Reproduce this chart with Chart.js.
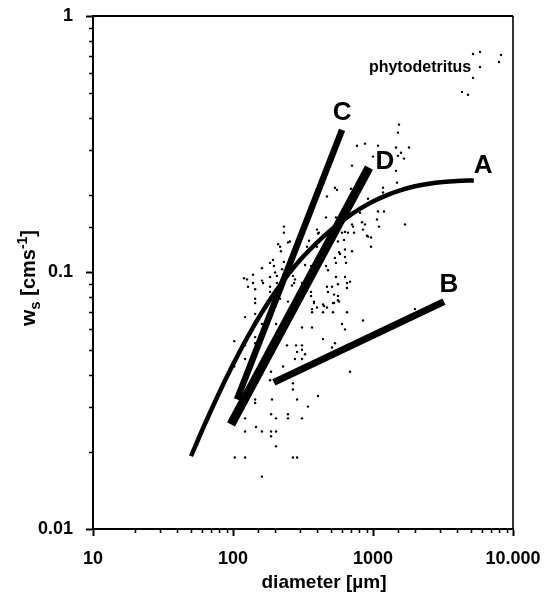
<!DOCTYPE html>
<html>
<head>
<meta charset="utf-8">
<script src="https://cdn.jsdelivr.net/npm/chart.js@4.4.0/dist/chart.umd.min.js"></script>
<style>
html,body{margin:0;padding:0;background:#fff;}
#wrap{width:548px;height:599px;position:relative;}
</style>
</head>
<body>
<div id="wrap"><canvas id="c" width="548" height="599"></canvas></div>
<script>
// ---------- data ----------
const xTickValues = [10, 100, 1000, 10000];
const xTickLabels = ['10', '100', '1000', '10.000'];
const yTickValues = [0.01, 0.1, 1];
const yTickLabels = ['0.01', '0.1', '1'];

// individual measurements (diameter µm, ws cm/s)
const scatterDiameter = [
  1534,1509,769,877,1086,1460,1808,1585,1509,1665,1000,708,1460,1484,535,553,696,469,1179,1179,921,
  462,544,1198,1086,1068,1104,1693,921,968,231,231,217,220,255,273,338,398,411,527,621,720,732,835,848,808,
  572,535,631,642,462,361,544,510,652,477,527,708,601,398,196,206,206,361,273,
  210,247,193,184,231,161,200,224,120,139,161,184,184,144,268,277,264,311,327,355,144,144,247,217,361,379,405,405,349,184,
  708,877,631,663,906,562,968,631,581,544,477,631,685,469,562,652,562,562,439,469,518,1995,
  126,139,128,164,
  122,144,161,203,102,122,144,144,243,282,287,122,102,228,187,277,268,268,287,144,144,
  367,367,439,518,652,848,601,311,367,631,439,535,311,311,327,510,311,685,405,343,
  187,247,203,247,311,122,122,146,161,187,203,187,203,103,122,268,287,161,184,190,398,447,527,572,379
];
const scatterWs = [
  0.377,0.351,0.312,0.318,0.312,0.307,0.307,0.293,0.285,0.278,0.283,0.261,0.249,0.224,0.214,0.210,0.212,0.198,0.214,0.205,0.194,
  0.164,0.164,0.173,0.173,0.161,0.151,0.154,0.138,0.137,0.151,0.143,0.126,0.121,0.132,0.120,0.126,0.147,0.143,0.134,0.134,0.151,0.143,0.157,0.147,0.171,
  0.120,0.114,0.115,0.109,0.106,0.106,0.096,0.088,0.091,0.084,0.082,0.121,0.143,0.126,0.106,0.097,0.091,0.084,0.091,
  0.129,0.131,0.112,0.109,0.110,0.104,0.100,0.103,0.095,0.091,0.093,0.096,0.088,0.086,0.097,0.094,0.089,0.091,0.107,0.097,0.079,0.076,0.077,0.079,0.081,0.077,0.131,0.142,0.133,0.084,
  0.154,0.154,0.144,0.143,0.139,0.132,0.126,0.123,0.118,0.109,0.102,0.096,0.092,0.088,0.090,0.087,0.081,0.078,0.075,0.073,0.076,0.072,
  0.094,0.098,0.088,0.091,
  0.067,0.069,0.063,0.063,0.054,0.052,0.053,0.056,0.052,0.052,0.049,0.046,0.043,0.043,0.041,0.046,0.037,0.035,0.032,0.032,0.031,
  0.072,0.070,0.070,0.070,0.070,0.065,0.063,0.061,0.061,0.060,0.055,0.053,0.052,0.050,0.048,0.051,0.046,0.041,0.033,0.030,
  0.028,0.028,0.027,0.027,0.027,0.027,0.024,0.025,0.024,0.024,0.024,0.023,0.021,0.019,0.019,0.019,0.019,0.016,0.038,0.032,0.073,0.074,0.076,0.077,0.076
];
const phytoDiameter = [5179, 5812, 8208, 7943, 5812, 5179, 4323, 4771];
const phytoWs = [0.711, 0.724, 0.705, 0.662, 0.633, 0.574, 0.506, 0.493];

// relationships A-D
const curveADiameter = [50.1, 63.1, 79.4, 100, 125.9, 158.5, 199.5, 251.2, 316.2, 398.1, 501.2, 631, 794.3, 1000, 1259, 1585, 1995, 2512, 3162, 3981, 5248];
const curveAWs = [0.01923, 0.02573, 0.03384, 0.04375, 0.05553, 0.06895, 0.08366, 0.0992, 0.1151, 0.1309, 0.1466, 0.1618, 0.1762, 0.1892, 0.2004, 0.2096, 0.2168, 0.2218, 0.2252, 0.2273, 0.2286];
const lineBDiameter = [196, 3214];
const lineBWs = [0.0373, 0.077];
const lineCDiameter = [106.8, 601];
const lineCWs = [0.032, 0.360];
const lineDDiameter = [96.8, 936];
const lineDWs = [0.0256, 0.2562];

// text annotations (anchored in data units)
const annotationTexts = ['A', 'B', 'C', 'D', 'phytodetritus'];
const annotationDiameter = [6107, 3491, 601, 1218, 2167];
const annotationWs = [0.261, 0.0898, 0.419, 0.270, 0.628];

// ---------- helpers ----------
const FONT = "'Liberation Sans', Arial, Helvetica, sans-serif";
const toPts = (xs, ys) => xs.map((x, i) => ({x: x, y: ys[i]}));
const isPow10 = v => v > 0 && Math.abs(Math.log10(v) - Math.round(Math.log10(v))) < 1e-6;
const labelFor = (vals, labs) => value => {
  const i = vals.findIndex(v => Math.abs(Math.log10(v) - Math.log10(value)) < 1e-6);
  return i >= 0 ? labs[i] : '';
};
const majorColor = ctx => (ctx.tick && isPow10(ctx.tick.value)) ? '#000' : 'rgba(0,0,0,0)';

const lineDs = (xs, ys, w, smooth) => ({
  type: 'scatter', data: toPts(xs, ys), showLine: true, borderColor: '#000',
  backgroundColor: '#000', borderWidth: w, pointRadius: 0,
  cubicInterpolationMode: smooth ? 'monotone' : 'default',
  borderCapStyle: 'butt', order: 0
});

// ---------- plugins ----------
const frameAndTicks = {
  id: 'frameAndTicks',
  afterDraw(chart) {
    const {ctx, chartArea: a, scales} = chart;
    ctx.save();
    ctx.strokeStyle = '#000';
    ctx.lineWidth = 2;
    ctx.beginPath();
    ctx.moveTo(a.left - 1, a.top); ctx.lineTo(a.right, a.top);
    ctx.stroke();
    ctx.lineWidth = 1.6;
    ctx.beginPath();
    ctx.moveTo(a.right, a.top); ctx.lineTo(a.right, a.bottom);
    ctx.stroke();
    // minor ticks
    ctx.lineWidth = 1.5;
    ctx.beginPath();
    scales.x.ticks.forEach(t => {
      if (isPow10(t.value)) return;
      const px = Math.round(scales.x.getPixelForValue(t.value)) + 0.5;
      ctx.moveTo(px, a.bottom); ctx.lineTo(px, a.bottom + 4);
    });
    scales.y.ticks.forEach(t => {
      if (isPow10(t.value)) return;
      const py = Math.round(scales.y.getPixelForValue(t.value)) + 0.5;
      ctx.moveTo(a.left, py); ctx.lineTo(a.left - 4, py);
    });
    ctx.stroke();
    ctx.restore();
  }
};

const textPlugin = {
  id: 'textPlugin',
  afterDatasetsDraw(chart) {
    const {ctx, scales} = chart;
    ctx.save();
    ctx.fillStyle = '#000';
    ctx.textAlign = 'center';
    ctx.textBaseline = 'middle';
    annotationTexts.forEach((t, i) => {
      const x = scales.x.getPixelForValue(annotationDiameter[i]);
      const y = scales.y.getPixelForValue(annotationWs[i]);
      ctx.font = (t.length > 1 ? 'bold 16px ' : 'bold 26px ') + FONT;
      ctx.fillText(t, x, y);
    });
    ctx.restore();
  },
  afterDraw(chart) {
    const {ctx} = chart;
    ctx.save();
    ctx.fillStyle = '#000';
    // x title
    ctx.font = 'bold 19px ' + FONT;
    ctx.textAlign = 'center';
    ctx.textBaseline = 'alphabetic';
    ctx.fillText('diameter [µm]', 324, 588);
    // y title with sub/superscript
    const segs = [
      {t: 'w', s: 21, dy: 0},
      {t: 's', s: 15, dy: 5},
      {t: ' [cms', s: 20, dy: 0},
      {t: '-1', s: 14, dy: -8},
      {t: ']', s: 20, dy: 0}
    ];
    let total = 0;
    segs.forEach(g => { ctx.font = 'bold ' + g.s + 'px ' + FONT; g.w = ctx.measureText(g.t).width; total += g.w; });
    ctx.translate(35, 278);
    ctx.rotate(-Math.PI / 2);
    ctx.textAlign = 'left';
    let x = -total / 2;
    segs.forEach(g => {
      ctx.font = 'bold ' + g.s + 'px ' + FONT;
      ctx.fillText(g.t, x, g.dy);
      x += g.w;
    });
    ctx.restore();
  }
};

// ---------- chart ----------
new Chart(document.getElementById('c'), {
  type: 'scatter',
  data: {
    datasets: [
      lineDs(curveADiameter, curveAWs, 4.5, true),
      lineDs(lineBDiameter, lineBWs, 7),
      lineDs(lineCDiameter, lineCWs, 6.5),
      lineDs(lineDDiameter, lineDWs, 9),
      {data: toPts(scatterDiameter, scatterWs), pointRadius: 1.2, pointBorderWidth: 0,
       pointBackgroundColor: '#000', showLine: false, order: 2},
      {data: toPts(phytoDiameter, phytoWs), pointRadius: 1.2, pointBorderWidth: 0,
       pointBackgroundColor: '#000', showLine: false, order: 2}
    ]
  },
  options: {
    responsive: false,
    animation: false,
    devicePixelRatio: 1,
    layout: {padding: {left: 0, top: 16, right: 35, bottom: 0}},
    plugins: {legend: {display: false}, tooltip: {enabled: false}},
    scales: {
      x: {
        type: 'logarithmic', position: 'bottom', min: 10, max: 10000,
        grid: {drawOnChartArea: false, tickLength: 7, tickWidth: 2, tickColor: majorColor},
        border: {color: '#000', width: 2},
        ticks: {autoSkip: false, maxRotation: 0, minRotation: 0, padding: 12, color: '#000',
                font: {family: FONT, size: 18, weight: 'bold'},
                callback: labelFor(xTickValues, xTickLabels)},
        afterFit: s => { s.height = 70; s.paddingLeft = 0; s.paddingRight = 0; }
      },
      y: {
        type: 'logarithmic', position: 'left', min: 0.01, max: 1,
        grid: {drawOnChartArea: false, tickLength: 7, tickWidth: 2, tickColor: majorColor},
        border: {color: '#000', width: 2},
        ticks: {autoSkip: false, padding: 13, color: '#000',
                font: {family: FONT, size: 18, weight: 'bold'},
                callback: labelFor(yTickValues, yTickLabels)},
        afterFit: s => { s.width = 93; s.paddingTop = 0; s.paddingBottom = 0; }
      }
    }
  },
  plugins: [frameAndTicks, textPlugin]
});
</script>
</body>
</html>
